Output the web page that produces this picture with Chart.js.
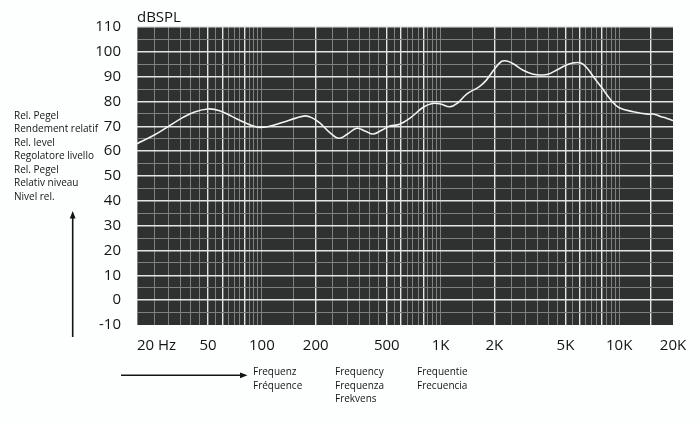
<!DOCTYPE html>
<html>
<head>
<meta charset="utf-8">
<script src="https://cdn.jsdelivr.net/npm/chart.js@4"></script>
<style>
	html, body { margin: 0; padding: 0; background: #fdfefe; }
	#wrap { width: 700px; height: 424px; position: relative; }
</style>
</head>
<body>
<div id="wrap"><canvas id="chart"></canvas></div>
<script>
// frequency response
const freqHz = [20, 25, 30, 36, 42, 50, 58, 68, 80, 95, 110, 130, 155, 175, 190, 210, 240, 270, 300, 340, 380, 420, 470, 520, 590, 680, 800, 900, 1000, 1130, 1250, 1400, 1650, 1800, 2000, 2200, 2350, 2550, 2900, 3300, 3700, 4000, 4500, 5000, 5500, 6100, 6600, 7200, 8000, 9000, 10000, 12000, 14500, 15500, 17000, 18500, 20000];
const levelDb = [63, 66.5, 70, 73.5, 75.8, 77, 76.3, 74, 71.5, 69.6, 70, 71.5, 73.3, 74.2, 73.5, 71.5, 67.5, 65.2, 66.8, 69.2, 68, 66.9, 68.5, 70.1, 70.8, 73.5, 77.7, 79.2, 79, 77.9, 79.5, 83, 86, 88.5, 93, 96.2, 96.3, 95.2, 92.6, 91, 90.7, 91, 92.8, 94.5, 95.5, 95.5, 93.5, 89.8, 85.5, 80.5, 77.5, 75.9, 74.9, 75, 74, 73.2, 72.3];

// axis ticks and grid
const xLabelHz = [20, 50, 100, 200, 500, 1000, 2000, 5000, 10000, 20000];
const xLabelText = ['20 Hz', '50', '100', '200', '500', '1K', '2K', '5K', '10K', '20K'];
const decadeStarts = [20, 200, 2000];
const decadeSteps = [1, 1.25, 1.5, 1.75, 2, 2.25, 2.5, 2.75, 3, 3.25, 3.5, 3.75, 4, 4.25, 4.5, 4.75, 5, 7.5];
const brightHz = [50, 60, 80, 200, 500, 600, 800, 2000, 5000, 6000, 8000, 15000];
const yMin = -10, yMax = 110;

const yTitle = 'dBSPL';
const levelNames = ['Rel. Pegel', 'Rendement relatif', 'Rel. level', 'Regolatore livello', 'Rel. Pegel', 'Relativ niveau', 'Nivel rel.'];
const freqNames = [['Frequenz', 'Fréquence'], ['Frequency', 'Frequenza', 'Frekvens'], ['Frequentie', 'Frecuencia']];

const gridHz = [];
decadeStarts.forEach(d => decadeSteps.forEach(s => gridHz.push(Math.round(d * s))));
gridHz.push(20000);

const yGrid = [];
for (let v = yMin; v <= yMax; v += 5) yGrid.push(v);

const FONT = '"Open Sans", sans-serif';
const INK = '#141414';

const decorPlugin = {
	id: 'decor',
	beforeDraw(chart) {
		const { ctx, chartArea: a } = chart;
		ctx.save();
		ctx.fillStyle = '#2e3130';
		ctx.fillRect(a.left, a.top, a.right - a.left, a.bottom - a.top);
		ctx.restore();
	},
	afterDraw(chart) {
		const { ctx, chartArea: a } = chart;
		const x = chart.scales.x;
		ctx.save();
		ctx.fillStyle = INK;
		ctx.font = `15px ${FONT}`;
		ctx.textBaseline = 'middle';

		// frequency labels
		xLabelHz.forEach((hz, i) => {
			ctx.textAlign = i === 0 ? 'left' : 'center';
			ctx.fillText(xLabelText[i], x.getPixelForValue(hz), a.bottom + 21);
		});

		// unit above plot
		ctx.textAlign = 'left';
		ctx.fillText(yTitle, a.left, a.top - 9);

		// multilingual notes
		ctx.font = `10px ${FONT}`;
		levelNames.forEach((t, i) => ctx.fillText(t, 14, 116 + i * 13.45));
		const cols = [253, 335, 417];
		freqNames.forEach((lines, c) => {
			lines.forEach((t, i) => ctx.fillText(t, cols[c], 372.5 + i * 13.4));
		});

		// arrows
		ctx.strokeStyle = INK;
		ctx.lineWidth = 1.6;
		ctx.beginPath();
		ctx.moveTo(72.7, 337);
		ctx.lineTo(72.7, 215);
		ctx.moveTo(121, 375.3);
		ctx.lineTo(243, 375.3);
		ctx.stroke();
		ctx.beginPath();
		ctx.moveTo(72.7, 211);
		ctx.lineTo(69.8, 218.5);
		ctx.lineTo(75.6, 218.5);
		ctx.closePath();
		ctx.moveTo(247.5, 375.3);
		ctx.lineTo(240, 372.4);
		ctx.lineTo(240, 378.2);
		ctx.closePath();
		ctx.fill();
		ctx.restore();
	}
};

new Chart(document.getElementById('chart').getContext('2d'), {
	type: 'line',
	data: {
		datasets: [{
			data: freqHz.map((f, i) => ({ x: f, y: levelDb[i] })),
			borderColor: '#f2f2f0',
			borderWidth: 1.6,
			pointRadius: 0,
			tension: 0.4,
			fill: false
		}]
	},
	options: {
		responsive: true,
		maintainAspectRatio: false,
		animation: false,
		layout: { padding: { left: 0, top: 27, right: 27, bottom: 99 } },
		plugins: {
			legend: { display: false },
			tooltip: { enabled: false }
		},
		scales: {
			x: {
				type: 'logarithmic',
				min: 20,
				max: 20000,
				afterBuildTicks: scale => { scale.ticks = gridHz.map(v => ({ value: v })); },
				afterFit: scale => { scale.height = 0; },
				border: { display: false },
				ticks: { display: false, autoSkip: false },
				grid: {
					drawTicks: false,
					color: ctx => {
						const v = ctx.tick && ctx.tick.value;
						if (v === 20000) return 'rgba(0,0,0,0)';
						return brightHz.includes(v) ? '#e2e5e2' : '#7c817e';
					},
					lineWidth: ctx => brightHz.includes(ctx.tick && ctx.tick.value) ? 1.4 : 1
				}
			},
			y: {
				min: yMin,
				max: yMax,
				afterBuildTicks: scale => { scale.ticks = yGrid.map(v => ({ value: v })); },
				afterFit: scale => { scale.width = 137; },
				border: { display: false },
				ticks: {
					autoSkip: false,
					padding: 16,
					color: INK,
					font: { family: 'Open Sans', size: 15 },
					callback: v => (v % 10 === 0 ? String(v) : '')
				},
				grid: {
					drawTicks: false,
					color: ctx => {
						const v = ctx.tick && ctx.tick.value;
						if (v === yMin) return 'rgba(0,0,0,0)';
						return v % 10 === 0 ? '#e2e5e2' : '#7c817e';
					},
					lineWidth: ctx => (ctx.tick && ctx.tick.value % 10 === 0) ? 1.4 : 1
				}
			}
		}
	},
	plugins: [decorPlugin]
});
</script>
</body>
</html>
